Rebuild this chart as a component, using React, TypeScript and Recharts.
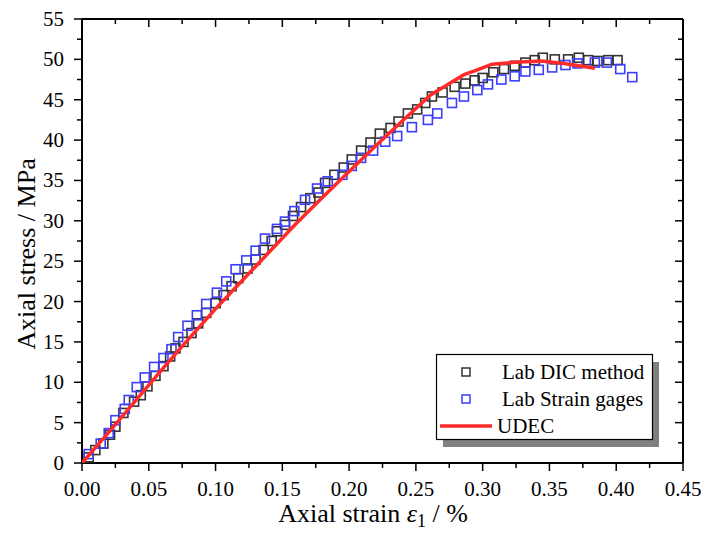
import React from 'react';
import { ScatterChart, Scatter, XAxis, YAxis, Legend } from 'recharts';

const FONT = '"Liberation Serif", "Times New Roman", serif';

const dicStrain = [0.005,0.010,0.016,0.021,0.025,0.031,0.039,0.044,0.049,0.055,0.061,0.066,0.070,0.076,0.082,0.087,0.093,0.100,0.106,0.112,0.117,0.124,0.130,0.136,0.142,0.146,0.152,0.158,0.164,0.171,0.177,0.182,0.189,0.196,0.202,0.209,0.216,0.223,0.231,0.237,0.244,0.251,0.257,0.262,0.270,0.279,0.287,0.294,0.300,0.308,0.316,0.324,0.332,0.339,0.345,0.354,0.364,0.372,0.379,0.386,0.394,0.401];
const dicStress = [0.7,1.6,2.4,3.5,4.5,6.2,7.6,8.4,9.5,10.8,12.0,13.2,14.2,15.0,16.1,17.3,18.6,19.8,20.8,21.9,22.9,24.1,25.2,26.4,27.5,28.7,29.5,30.6,31.7,32.8,33.5,34.7,35.7,36.6,37.6,38.7,39.7,40.8,41.5,42.3,43.3,43.8,44.6,45.4,45.9,46.6,47.0,47.4,47.7,48.4,48.8,49.2,49.6,49.9,50.2,50.0,50.0,50.2,49.9,49.8,49.9,49.9];

const gageStrain = [0.005,0.014,0.020,0.025,0.032,0.035,0.041,0.047,0.054,0.061,0.067,0.072,0.079,0.086,0.093,0.101,0.108,0.115,0.123,0.130,0.137,0.146,0.152,0.159,0.167,0.176,0.184,0.195,0.202,0.209,0.218,0.227,0.236,0.247,0.259,0.266,0.277,0.286,0.296,0.304,0.314,0.324,0.332,0.342,0.352,0.362,0.371,0.384,0.393,0.403,0.412];
const gageStress = [1.1,2.4,3.7,5.3,6.7,7.8,9.4,10.6,11.9,13.0,14.1,15.6,17.0,18.3,19.7,21.1,22.5,24.0,25.1,26.3,27.8,29.0,29.9,31.2,32.6,34.0,34.9,35.7,36.8,37.8,38.7,39.8,40.5,41.6,42.5,43.3,44.6,45.4,46.2,46.9,47.5,47.9,48.5,48.7,49.0,49.3,49.5,49.6,49.6,48.8,47.8];

const udecStrain = [0,0.02,0.04,0.06,0.08,0.10,0.12,0.14,0.16,0.18,0.20,0.22,0.24,0.261,0.276,0.286,0.296,0.307,0.321,0.344,0.361,0.384];
const udecStress = [0,3.8,7.7,11.6,15.4,19.1,22.6,26.1,29.6,32.9,36.1,39.3,42.4,45.6,47.1,48.1,48.7,49.4,49.6,49.8,49.5,48.9];

const xTicks = [0,0.025,0.05,0.075,0.1,0.125,0.15,0.175,0.2,0.225,0.25,0.275,0.3,0.325,0.35,0.375,0.4,0.425,0.45];
const xTickLabels = ['0.00','0.05','0.10','0.15','0.20','0.25','0.30','0.35','0.40','0.45'];
const yTicks = [0,2.5,5,7.5,10,12.5,15,17.5,20,22.5,25,27.5,30,32.5,35,37.5,40,42.5,45,47.5,50,52.5,55];
const yTickLabels = ['0','5','10','15','20','25','30','35','40','45','50','55'];

const seriesNames = ['Lab DIC method', 'Lab Strain gages', 'UDEC'];
const colors = { dic: '#333333', gage: '#3d3dff', udec: '#ff2b2b' };

const dicData = dicStrain.map((x, i) => ({ x, y: dicStress[i] }));
const gageData = gageStrain.map((x, i) => ({ x, y: gageStress[i] }));
const udecData = udecStrain.map((x, i) => ({ x, y: udecStress[i] }));

const isMajor = (v: number, step: number) => Math.abs(v / step - Math.round(v / step)) < 1e-6;

const BottomTick = (props: any) => {
  const { x, y, payload } = props;
  const v = payload.value;
  const major = isMajor(v, 0.05);
  return (
    <g>
      <line x1={x} x2={x} y1={y} y2={y + (major ? 8 : 5)} stroke="#000" strokeWidth={1.5} />
      {major && (
        <text x={x} y={y + 33} textAnchor="middle" fontFamily={FONT} fontSize={21} fill="#000">
          {xTickLabels[Math.round(v / 0.05)]}
        </text>
      )}
    </g>
  );
};

const TopTick = (props: any) => {
  const { x, y, payload } = props;
  const major = isMajor(payload.value, 0.05);
  return <line x1={x} x2={x} y1={y} y2={y + (major ? 8 : 5)} stroke="#000" strokeWidth={1.5} />;
};

const LeftTick = (props: any) => {
  const { x, y, payload } = props;
  const v = payload.value;
  const major = isMajor(v, 5);
  return (
    <g>
      <line x1={x - (major ? 8 : 5)} x2={x} y1={y} y2={y} stroke="#000" strokeWidth={1.5} />
      {major && (
        <text x={x - 18} y={y + 7} textAnchor="end" fontFamily={FONT} fontSize={21} fill="#000">
          {yTickLabels[Math.round(v / 5)]}
        </text>
      )}
    </g>
  );
};

const RightTick = (props: any) => {
  const { x, y, payload } = props;
  const major = isMajor(payload.value, 5);
  return <line x1={x - (major ? 8 : 5)} x2={x} y1={y} y2={y} stroke="#000" strokeWidth={1.5} />;
};

const Square = (color: string) => (props: any) => {
  const { cx, cy } = props;
  if (cx == null || cy == null) return <g />;
  return <rect x={cx - 4.5} y={cy - 4.5} width={9} height={9} fill="none" stroke={color} strokeWidth={1.6} />;
};

const XTitle = () => (
  <text x={373} y={522} textAnchor="middle" fontFamily={FONT} fontSize={26} fill="#000">
    Axial strain <tspan fontStyle="italic">ε</tspan>
    <tspan fontSize={18} dy={5}>1</tspan>
    <tspan dy={-5}> / %</tspan>
  </text>
);

const YTitle = () => (
  <text x={35} y={254} transform="rotate(-90 35 254)" textAnchor="middle" fontFamily={FONT} fontSize={26} fill="#000">
    Axial stress / MPa
  </text>
);

const LegendBox = () => (
  <svg width={240} height={100} style={{ display: 'block', overflow: 'visible' }}>
    <rect x={7} y={8} width={216} height={85} fill="#808080" />
    <rect x={0.5} y={0.5} width={216} height={85} fill="#fff" stroke="#000" strokeWidth={1.2} />
    <rect x={26} y={14} width={8} height={8} fill="none" stroke={colors.dic} strokeWidth={1.5} />
    <text x={66} y={24.5} fontFamily={FONT} fontSize={21} fill="#000">{seriesNames[0]}</text>
    <rect x={26} y={41} width={8} height={8} fill="none" stroke={colors.gage} strokeWidth={1.5} />
    <text x={66} y={52} fontFamily={FONT} fontSize={21} fill="#000">{seriesNames[1]}</text>
    <line x1={4} x2={56} y1={72} y2={72} stroke={colors.udec} strokeWidth={3.5} />
    <text x={61} y={79} fontFamily={FONT} fontSize={21} fill="#000">{seriesNames[2]}</text>
  </svg>
);

export default function App() {
  return (
    <div style={{ position: 'absolute', left: 0, top: 0, width: 705, height: 536, overflow: 'hidden' }}>
      <ScatterChart width={705} height={536} margin={{ top: 18, right: 21, bottom: 43, left: 0 }}>
        <XAxis
          xAxisId={0}
          dataKey="x"
          type="number"
          domain={[0, 0.45]}
          allowDataOverflow
          ticks={xTicks}
          interval={0}
          height={30}
          tickSize={0}
          tickMargin={0}
          tick={<BottomTick />}
          axisLine={{ stroke: '#000', strokeWidth: 2 }}
        />
        <XAxis
          xAxisId="top"
          orientation="top"
          dataKey="x"
          type="number"
          domain={[0, 0.45]}
          allowDataOverflow
          ticks={xTicks}
          interval={0}
          height={1}
          tickSize={0}
          tickMargin={0}
          tick={<TopTick />}
          axisLine={{ stroke: '#000', strokeWidth: 2 }}
        />
        <YAxis
          yAxisId={0}
          dataKey="y"
          type="number"
          domain={[0, 55]}
          allowDataOverflow
          ticks={yTicks}
          interval={0}
          width={82}
          tickSize={0}
          tickMargin={0}
          tick={<LeftTick />}
          axisLine={{ stroke: '#000', strokeWidth: 2 }}
        />
        <YAxis
          yAxisId="right"
          orientation="right"
          dataKey="y"
          type="number"
          domain={[0, 55]}
          allowDataOverflow
          ticks={yTicks}
          interval={0}
          width={1}
          tickSize={0}
          tickMargin={0}
          tick={<RightTick />}
          axisLine={{ stroke: '#000', strokeWidth: 2 }}
        />
        <Legend
          layout="vertical"
          align="center"
          verticalAlign="middle"
          content={() => <LegendBox />}
          wrapperStyle={{ position: 'absolute', left: 436, top: 354, width: 240, height: 100 }}
        />
        <Scatter name={seriesNames[0]} data={dicData} shape={Square(colors.dic)} isAnimationActive={false} />
        <Scatter name={seriesNames[1]} data={gageData} shape={Square(colors.gage)} isAnimationActive={false} />
        <Scatter
          name={seriesNames[2]}
          data={udecData}
          line={{ stroke: colors.udec, strokeWidth: 3.5 }}
          shape={() => <g />}
          isAnimationActive={false}
        />
      </ScatterChart>
      <svg width={705} height={536} style={{ position: 'absolute', left: 0, top: 0, pointerEvents: 'none' }}>
        <XTitle />
        <YTitle />
      </svg>
    </div>
  );
}
